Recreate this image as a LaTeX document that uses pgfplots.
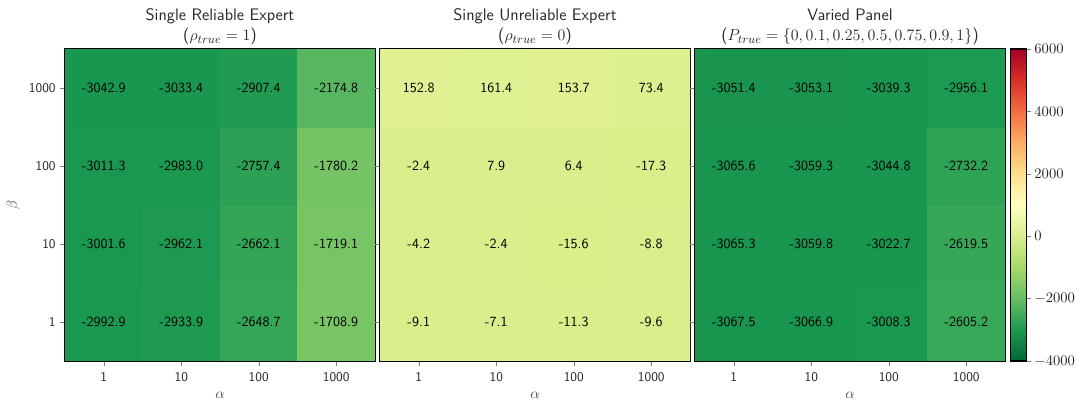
\documentclass[border=0pt]{standalone}
\usepackage{pgfplots}
\usepackage{pgfplotstable}
\pgfplotsset{compat=1.18}

\pgfplotstableread{
x y v lab
0 0 -2992.9 -2992.9
1 0 -2933.9 -2933.9
2 0 -2648.7 -2648.7
3 0 -1708.9 -1708.9
0 1 -3001.6 -3001.6
1 1 -2962.1 -2962.1
2 1 -2662.1 -2662.1
3 1 -1719.1 -1719.1
0 2 -3011.3 -3011.3
1 2 -2983.0 -2983.0
2 2 -2757.4 -2757.4
3 2 -1780.2 -1780.2
0 3 -3042.9 -3042.9
1 3 -3033.4 -3033.4
2 3 -2907.4 -2907.4
3 3 -2174.8 -2174.8
}\tA

\pgfplotstableread{
x y v lab
0 0 -9.1 -9.1
1 0 -7.1 -7.1
2 0 -11.3 -11.3
3 0 -9.6 -9.6
0 1 -4.2 -4.2
1 1 -2.4 -2.4
2 1 -15.6 -15.6
3 1 -8.8 -8.8
0 2 -2.4 -2.4
1 2 7.9 7.9
2 2 6.4 6.4
3 2 -17.3 -17.3
0 3 152.8 152.8
1 3 161.4 161.4
2 3 153.7 153.7
3 3 73.4 73.4
}\tB

\pgfplotstableread{
x y v lab
0 0 -3067.5 -3067.5
1 0 -3066.9 -3066.9
2 0 -3008.3 -3008.3
3 0 -2605.2 -2605.2
0 1 -3065.3 -3065.3
1 1 -3059.8 -3059.8
2 1 -3022.7 -3022.7
3 1 -2619.5 -2619.5
0 2 -3065.6 -3065.6
1 2 -3059.3 -3059.3
2 2 -3044.8 -3044.8
3 2 -2732.2 -2732.2
0 3 -3051.4 -3051.4
1 3 -3053.1 -3053.1
2 3 -3039.3 -3039.3
3 3 -2956.1 -2956.1
}\tC

\pgfplotsset{
  colormap={RdYlGnr}{rgb255=(0,104,55) rgb255=(26,152,80) rgb255=(102,189,99) rgb255=(166,217,106) rgb255=(217,239,139) rgb255=(255,255,191) rgb255=(254,224,139) rgb255=(253,174,97) rgb255=(244,109,67) rgb255=(215,48,39) rgb255=(165,0,38)},
  hm/.style={
    scale only axis, width=232.5pt, height=234pt, anchor=south west,
    xmin=-0.5, xmax=3.5, ymin=-0.5, ymax=3.5, enlargelimits=false,
    xtick={0,1,2,3}, ytick={0,1,2,3}, xticklabels={1,10,100,1000},
    tick pos=left, tick align=outside, major tick length=3.5pt,
    ticklabel style={font=\sffamily\fontsize{10}{11}\selectfont, text=black!85},
    xticklabel style={yshift=-1.5pt},
    colormap name=RdYlGnr, point meta min=-4000, point meta max=6000,
    xlabel={$\alpha$}, xlabel style={font=\fontsize{11}{12}\selectfont, text=black!70, yshift=-1pt},
    title style={align=center, font=\sffamily\fontsize{12.5}{15}\selectfont, yshift=-6.5pt, text=black!85},
    axis line style={line width=0.8pt},
  },
  cells/.style={matrix plot*, mesh/cols=4, point meta=explicit},
  labs/.style={only marks, mark=none, nodes near coords, point meta=explicit symbolic,
    every node near coord/.append style={anchor=center, font=\sffamily\fontsize{10.5}{12}\selectfont, text=black}},
}

\begin{document}
\begin{tikzpicture}
\useasboundingbox (0,0) rectangle (810pt,301.5pt);

\begin{axis}[hm, at={(48.75pt,30.75pt)},
  yticklabels={1,10,100,1000}, ylabel={$\beta$},
  ylabel style={font=\fontsize{11}{12}\selectfont, text=black!70, yshift=0pt},
  title={Single Reliable Expert\\($\rho_{true}=1$)}]
\addplot[cells] table[x=x,y=y,meta=v] {\tA};
\addplot[labs] table[x=x,y=y,meta=lab] {\tA};
\end{axis}

\begin{axis}[hm, at={(285pt,30.75pt)}, yticklabels={},
  title={Single Unreliable Expert\\($\rho_{true}=0$)}]
\addplot[cells] table[x=x,y=y,meta=v] {\tB};
\addplot[labs] table[x=x,y=y,meta=lab] {\tB};
\end{axis}

\begin{axis}[hm, at={(521.25pt,30.75pt)}, yticklabels={},
  title={Varied Panel\\($P_{true}=\{0,0.1,0.25,0.5,0.75,0.9,1\}$)},
  colorbar,
  colorbar style={at={(parent axis.north east)}, anchor=north west, xshift=-4.5pt,
    width=12pt, ytick={-4000,-2000,0,2000,4000,6000},
    tick align=outside, ytick pos=right, major tick length=3.5pt,
    yticklabel style={font=\fontsize{10.5}{12}\selectfont, text=black!85, xshift=-1pt},
    /pgf/number format/1000 sep={}, scaled y ticks=false,
    axis line style={line width=0.8pt}}]
\addplot[cells] table[x=x,y=y,meta=v] {\tC};
\addplot[labs] table[x=x,y=y,meta=lab] {\tC};
\end{axis}
\end{tikzpicture}
\end{document}
